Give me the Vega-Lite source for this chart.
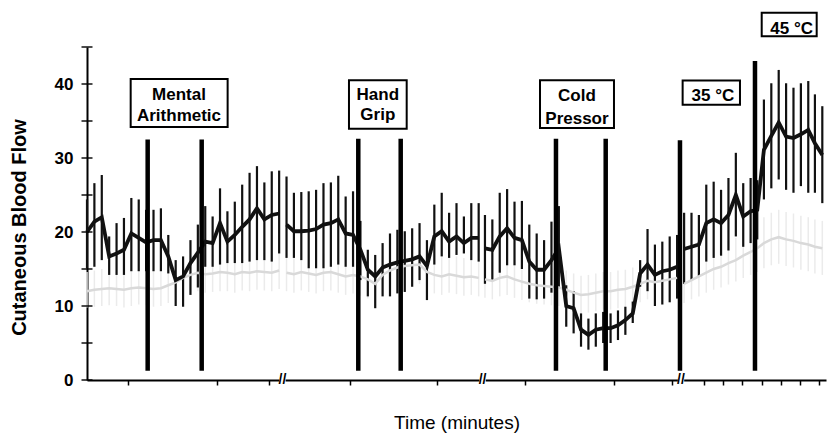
{
  "$schema": "https://vega.github.io/schema/vega-lite/v6.json",
  "width": 739,
  "height": 333,
  "autosize": {"type": "none"},
  "padding": {"left": 87, "top": 47, "right": 1, "bottom": 53},
  "config": {"view": {"stroke": null}, "font": "Liberation Sans"},
  "datasets": {
    "series": [
      {"t":0,"s":1,"g":"b","m":20.0,"lo":15.1,"hi":24.4},
      {"t":1,"s":1,"g":"b","m":21.4,"lo":15.3,"hi":26.6},
      {"t":2,"s":1,"g":"b","m":22.0,"lo":16.2,"hi":27.7},
      {"t":3,"s":1,"g":"b","m":16.7,"lo":14.2,"hi":19.4},
      {"t":4,"s":1,"g":"b","m":17.1,"lo":14.2,"hi":21.2},
      {"t":5,"s":1,"g":"b","m":17.6,"lo":14.2,"hi":21.9},
      {"t":6,"s":1,"g":"b","m":19.8,"lo":14.7,"hi":24.6},
      {"t":7,"s":1,"g":"b","m":19.2,"lo":14.7,"hi":24.4},
      {"t":8,"s":1,"g":"b","m":18.6,"lo":14.7,"hi":23.0},
      {"t":9,"s":1,"g":"b","m":18.9,"lo":14.7,"hi":23.0},
      {"t":10,"s":1,"g":"b","m":18.9,"lo":14.7,"hi":23.2},
      {"t":11,"s":1,"g":"b","m":16.7,"lo":14.4,"hi":19.6},
      {"t":12,"s":1,"g":"b","m":13.5,"lo":10.0,"hi":16.2},
      {"t":13,"s":1,"g":"b","m":14.0,"lo":9.9,"hi":16.7},
      {"t":14,"s":1,"g":"b","m":15.8,"lo":11.5,"hi":18.9},
      {"t":15,"s":1,"g":"b","m":17.2,"lo":12.5,"hi":21.0},
      {"t":16,"s":1,"g":"b","m":18.7,"lo":15.3,"hi":23.5},
      {"t":17,"s":1,"g":"b","m":18.5,"lo":15.3,"hi":22.1},
      {"t":18,"s":1,"g":"b","m":21.2,"lo":15.6,"hi":25.9},
      {"t":19,"s":1,"g":"b","m":18.7,"lo":15.8,"hi":22.8},
      {"t":20,"s":1,"g":"b","m":19.6,"lo":15.8,"hi":24.1},
      {"t":21,"s":1,"g":"b","m":20.7,"lo":15.8,"hi":26.4},
      {"t":22,"s":1,"g":"b","m":21.7,"lo":16.0,"hi":28.0},
      {"t":23,"s":1,"g":"b","m":23.2,"lo":16.2,"hi":28.9},
      {"t":24,"s":1,"g":"b","m":21.7,"lo":16.2,"hi":26.7},
      {"t":25,"s":1,"g":"b","m":22.3,"lo":16.0,"hi":28.2},
      {"t":26,"s":1,"g":"b","m":22.5,"lo":17.1,"hi":28.3},
      {"t":27,"s":2,"g":"b","m":21.0,"lo":16.5,"hi":27.5},
      {"t":28,"s":2,"g":"b","m":20.1,"lo":16.5,"hi":25.3},
      {"t":29,"s":2,"g":"b","m":20.1,"lo":16.2,"hi":25.4},
      {"t":30,"s":2,"g":"b","m":20.2,"lo":15.1,"hi":25.5},
      {"t":31,"s":2,"g":"b","m":20.4,"lo":15.1,"hi":25.7},
      {"t":32,"s":2,"g":"b","m":21.0,"lo":15.1,"hi":26.6},
      {"t":33,"s":2,"g":"b","m":21.2,"lo":15.3,"hi":26.7},
      {"t":34,"s":2,"g":"b","m":21.7,"lo":15.6,"hi":27.6},
      {"t":35,"s":2,"g":"b","m":19.8,"lo":15.3,"hi":24.8},
      {"t":36,"s":2,"g":"b","m":19.6,"lo":15.3,"hi":25.5},
      {"t":37,"s":2,"g":"b","m":17.6,"lo":13.5,"hi":21.5},
      {"t":38,"s":2,"g":"b","m":14.9,"lo":11.3,"hi":17.6},
      {"t":39,"s":2,"g":"b","m":14.0,"lo":9.7,"hi":16.9},
      {"t":40,"s":2,"g":"b","m":15.2,"lo":11.3,"hi":18.5},
      {"t":41,"s":2,"g":"b","m":15.6,"lo":11.3,"hi":19.8},
      {"t":42,"s":2,"g":"b","m":15.9,"lo":11.7,"hi":20.3},
      {"t":43,"s":2,"g":"b","m":16.1,"lo":11.9,"hi":20.1},
      {"t":44,"s":2,"g":"b","m":16.3,"lo":12.6,"hi":20.5},
      {"t":45,"s":2,"g":"b","m":16.7,"lo":13.5,"hi":21.2},
      {"t":46,"s":2,"g":"b","m":15.4,"lo":10.8,"hi":18.9},
      {"t":47,"s":2,"g":"b","m":19.4,"lo":15.6,"hi":23.7},
      {"t":48,"s":2,"g":"b","m":20.1,"lo":16.7,"hi":25.3},
      {"t":49,"s":2,"g":"b","m":18.7,"lo":16.5,"hi":22.6},
      {"t":50,"s":2,"g":"b","m":19.4,"lo":16.9,"hi":23.9},
      {"t":51,"s":2,"g":"b","m":18.5,"lo":17.1,"hi":22.1},
      {"t":52,"s":2,"g":"b","m":19.2,"lo":16.2,"hi":23.9},
      {"t":53,"s":2,"g":"b","m":19.2,"lo":16.0,"hi":23.9},
      {"t":53.85,"s":3,"g":"b","m":17.8,"lo":13.0,"hi":22.3},
      {"t":54.85,"s":3,"g":"b","m":17.6,"lo":13.5,"hi":21.7},
      {"t":55.85,"s":3,"g":"b","m":19.4,"lo":14.5,"hi":25.3},
      {"t":56.85,"s":3,"g":"b","m":20.5,"lo":15.5,"hi":25.8},
      {"t":57.85,"s":3,"g":"b","m":19.2,"lo":15.5,"hi":24.1},
      {"t":58.85,"s":3,"g":"b","m":18.9,"lo":15.0,"hi":24.2},
      {"t":59.85,"s":3,"g":"b","m":16.0,"lo":11.0,"hi":21.0},
      {"t":60.85,"s":3,"g":"b","m":14.9,"lo":10.9,"hi":19.8},
      {"t":61.85,"s":3,"g":"b","m":14.9,"lo":11.0,"hi":18.9},
      {"t":62.85,"s":3,"g":"b","m":16.2,"lo":11.8,"hi":21.4},
      {"t":63.85,"s":3,"g":"b","m":17.8,"lo":12.5,"hi":23.5},
      {"t":64.85,"s":3,"g":"b","m":10.0,"lo":7.2,"hi":12.8},
      {"t":65.85,"s":3,"g":"b","m":9.7,"lo":6.3,"hi":12.0},
      {"t":66.85,"s":3,"g":"b","m":6.8,"lo":4.5,"hi":9.0},
      {"t":67.85,"s":3,"g":"b","m":6.1,"lo":4.1,"hi":8.3},
      {"t":68.85,"s":3,"g":"b","m":6.8,"lo":4.5,"hi":9.0},
      {"t":69.85,"s":3,"g":"b","m":7.0,"lo":5.0,"hi":9.2},
      {"t":70.85,"s":3,"g":"b","m":7.0,"lo":5.0,"hi":9.0},
      {"t":71.85,"s":3,"g":"b","m":7.4,"lo":5.4,"hi":9.4},
      {"t":72.85,"s":3,"g":"b","m":8.1,"lo":6.1,"hi":9.9},
      {"t":73.85,"s":3,"g":"b","m":9.0,"lo":7.7,"hi":10.6},
      {"t":74.85,"s":3,"g":"b","m":14.4,"lo":12.6,"hi":16.2},
      {"t":75.85,"s":3,"g":"b","m":15.6,"lo":12.0,"hi":20.4},
      {"t":76.85,"s":3,"g":"b","m":14.2,"lo":10.0,"hi":18.3},
      {"t":77.85,"s":3,"g":"b","m":14.7,"lo":10.2,"hi":18.7},
      {"t":78.85,"s":3,"g":"b","m":14.9,"lo":10.5,"hi":19.4},
      {"t":79.85,"s":3,"g":"b","m":15.3,"lo":11.0,"hi":19.6},
      {"t":80.8,"s":4,"g":"b","m":17.7,"lo":13.0,"hi":22.6},
      {"t":81.8,"s":4,"g":"b","m":18.0,"lo":13.5,"hi":22.6},
      {"t":82.8,"s":4,"g":"b","m":18.3,"lo":14.0,"hi":22.3},
      {"t":83.8,"s":4,"g":"b","m":21.2,"lo":16.0,"hi":26.4},
      {"t":84.8,"s":4,"g":"b","m":21.7,"lo":16.5,"hi":26.8},
      {"t":85.8,"s":4,"g":"b","m":21.2,"lo":16.8,"hi":25.7},
      {"t":86.8,"s":4,"g":"b","m":22.3,"lo":17.5,"hi":27.3},
      {"t":87.8,"s":4,"g":"b","m":25.0,"lo":19.4,"hi":30.7},
      {"t":88.8,"s":4,"g":"b","m":22.1,"lo":18.0,"hi":26.6},
      {"t":89.8,"s":4,"g":"b","m":22.8,"lo":18.5,"hi":27.3},
      {"t":90.7,"s":4,"g":"b","m":23.0,"lo":19.0,"hi":27.0},
      {"t":91.6,"s":4,"g":"b","m":31.1,"lo":24.4,"hi":37.9},
      {"t":92.6,"s":4,"g":"b","m":33.0,"lo":25.9,"hi":40.1},
      {"t":93.6,"s":4,"g":"b","m":34.8,"lo":27.1,"hi":41.9},
      {"t":94.6,"s":4,"g":"b","m":32.9,"lo":25.7,"hi":40.1},
      {"t":95.6,"s":4,"g":"b","m":32.7,"lo":25.3,"hi":39.5},
      {"t":96.6,"s":4,"g":"b","m":33.2,"lo":26.2,"hi":40.1},
      {"t":97.6,"s":4,"g":"b","m":33.8,"lo":25.3,"hi":40.4},
      {"t":98.5,"s":4,"g":"b","m":32.0,"lo":25.3,"hi":38.6},
      {"t":99.5,"s":4,"g":"b","m":30.4,"lo":23.9,"hi":37.0},

      {"t":0,"s":1,"g":"g","m":12.0,"lo":9.8,"hi":14.6},
      {"t":1,"s":1,"g":"g","m":12.2,"lo":9.9,"hi":14.8},
      {"t":2,"s":1,"g":"g","m":12.3,"lo":10.0,"hi":15.0},
      {"t":3,"s":1,"g":"g","m":12.4,"lo":10.1,"hi":14.9},
      {"t":4,"s":1,"g":"g","m":12.3,"lo":10.0,"hi":14.8},
      {"t":5,"s":1,"g":"g","m":12.2,"lo":9.8,"hi":14.6},
      {"t":6,"s":1,"g":"g","m":12.4,"lo":10.0,"hi":15.0},
      {"t":7,"s":1,"g":"g","m":12.5,"lo":10.2,"hi":15.1},
      {"t":8,"s":1,"g":"g","m":12.4,"lo":10.1,"hi":14.9},
      {"t":9,"s":1,"g":"g","m":12.3,"lo":9.9,"hi":14.8},
      {"t":10,"s":1,"g":"g","m":12.4,"lo":10.0,"hi":15.0},
      {"t":11,"s":1,"g":"g","m":12.8,"lo":10.4,"hi":15.3},
      {"t":12,"s":1,"g":"g","m":13.2,"lo":10.8,"hi":15.7},
      {"t":13,"s":1,"g":"g","m":13.8,"lo":11.3,"hi":16.3},
      {"t":14,"s":1,"g":"g","m":14.2,"lo":11.8,"hi":16.8},
      {"t":15,"s":1,"g":"g","m":14.5,"lo":12.0,"hi":17.0},
      {"t":16,"s":1,"g":"g","m":14.3,"lo":11.8,"hi":16.9},
      {"t":17,"s":1,"g":"g","m":14.4,"lo":11.9,"hi":17.0},
      {"t":18,"s":1,"g":"g","m":14.6,"lo":12.0,"hi":17.3},
      {"t":19,"s":1,"g":"g","m":14.5,"lo":12.0,"hi":17.1},
      {"t":20,"s":1,"g":"g","m":14.3,"lo":11.8,"hi":16.9},
      {"t":21,"s":1,"g":"g","m":14.6,"lo":12.1,"hi":17.2},
      {"t":22,"s":1,"g":"g","m":14.5,"lo":12.0,"hi":17.1},
      {"t":23,"s":1,"g":"g","m":14.7,"lo":12.2,"hi":17.3},
      {"t":24,"s":1,"g":"g","m":14.6,"lo":12.1,"hi":17.2},
      {"t":25,"s":1,"g":"g","m":14.5,"lo":12.0,"hi":17.0},
      {"t":26,"s":1,"g":"g","m":14.8,"lo":12.3,"hi":17.4},
      {"t":27,"s":2,"g":"g","m":14.5,"lo":12.0,"hi":17.1},
      {"t":28,"s":2,"g":"g","m":14.3,"lo":11.8,"hi":16.9},
      {"t":29,"s":2,"g":"g","m":14.6,"lo":12.1,"hi":17.2},
      {"t":30,"s":2,"g":"g","m":14.4,"lo":11.9,"hi":17.0},
      {"t":31,"s":2,"g":"g","m":14.2,"lo":11.7,"hi":16.8},
      {"t":32,"s":2,"g":"g","m":14.5,"lo":12.0,"hi":17.1},
      {"t":33,"s":2,"g":"g","m":14.6,"lo":12.1,"hi":17.2},
      {"t":34,"s":2,"g":"g","m":14.3,"lo":11.8,"hi":16.9},
      {"t":35,"s":2,"g":"g","m":14.0,"lo":11.5,"hi":16.6},
      {"t":36,"s":2,"g":"g","m":14.2,"lo":11.7,"hi":16.8},
      {"t":37,"s":2,"g":"g","m":14.0,"lo":11.4,"hi":16.6},
      {"t":38,"s":2,"g":"g","m":13.6,"lo":11.0,"hi":16.2},
      {"t":39,"s":2,"g":"g","m":13.0,"lo":10.4,"hi":15.6},
      {"t":40,"s":2,"g":"g","m":14.2,"lo":11.6,"hi":16.8},
      {"t":41,"s":2,"g":"g","m":14.8,"lo":12.2,"hi":17.4},
      {"t":42,"s":2,"g":"g","m":15.2,"lo":12.6,"hi":17.8},
      {"t":43,"s":2,"g":"g","m":15.4,"lo":12.8,"hi":18.0},
      {"t":44,"s":2,"g":"g","m":15.5,"lo":12.9,"hi":18.1},
      {"t":45,"s":2,"g":"g","m":15.6,"lo":13.0,"hi":18.2},
      {"t":46,"s":2,"g":"g","m":14.6,"lo":12.0,"hi":17.2},
      {"t":47,"s":2,"g":"g","m":14.2,"lo":11.7,"hi":16.8},
      {"t":48,"s":2,"g":"g","m":14.0,"lo":11.5,"hi":16.6},
      {"t":49,"s":2,"g":"g","m":14.3,"lo":11.8,"hi":16.9},
      {"t":50,"s":2,"g":"g","m":14.1,"lo":11.6,"hi":16.7},
      {"t":51,"s":2,"g":"g","m":13.9,"lo":11.4,"hi":16.5},
      {"t":52,"s":2,"g":"g","m":14.0,"lo":11.5,"hi":16.6},
      {"t":53,"s":2,"g":"g","m":13.8,"lo":11.3,"hi":16.4},
      {"t":53.85,"s":3,"g":"g","m":13.6,"lo":11.1,"hi":16.2},
      {"t":54.85,"s":3,"g":"g","m":13.4,"lo":10.9,"hi":16.0},
      {"t":55.85,"s":3,"g":"g","m":13.8,"lo":11.3,"hi":16.4},
      {"t":56.85,"s":3,"g":"g","m":14.0,"lo":11.5,"hi":16.6},
      {"t":57.85,"s":3,"g":"g","m":13.6,"lo":11.1,"hi":16.2},
      {"t":58.85,"s":3,"g":"g","m":13.3,"lo":10.8,"hi":15.9},
      {"t":59.85,"s":3,"g":"g","m":13.0,"lo":10.5,"hi":15.6},
      {"t":60.85,"s":3,"g":"g","m":12.8,"lo":10.3,"hi":15.4},
      {"t":61.85,"s":3,"g":"g","m":12.7,"lo":10.2,"hi":15.3},
      {"t":62.85,"s":3,"g":"g","m":12.6,"lo":10.1,"hi":15.2},
      {"t":63.85,"s":3,"g":"g","m":12.5,"lo":10.0,"hi":15.1},
      {"t":64.85,"s":3,"g":"g","m":12.2,"lo":9.7,"hi":14.8},
      {"t":65.85,"s":3,"g":"g","m":11.8,"lo":9.3,"hi":14.4},
      {"t":66.85,"s":3,"g":"g","m":11.5,"lo":9.0,"hi":14.1},
      {"t":67.85,"s":3,"g":"g","m":11.6,"lo":9.1,"hi":14.2},
      {"t":68.85,"s":3,"g":"g","m":11.8,"lo":9.3,"hi":14.4},
      {"t":69.85,"s":3,"g":"g","m":12.0,"lo":9.5,"hi":14.6},
      {"t":70.85,"s":3,"g":"g","m":12.0,"lo":9.5,"hi":14.6},
      {"t":71.85,"s":3,"g":"g","m":12.2,"lo":9.7,"hi":14.8},
      {"t":72.85,"s":3,"g":"g","m":12.3,"lo":9.8,"hi":14.9},
      {"t":73.85,"s":3,"g":"g","m":12.6,"lo":10.1,"hi":15.2},
      {"t":74.85,"s":3,"g":"g","m":13.0,"lo":10.5,"hi":15.6},
      {"t":75.85,"s":3,"g":"g","m":13.4,"lo":10.9,"hi":16.0},
      {"t":76.85,"s":3,"g":"g","m":13.2,"lo":10.7,"hi":15.8},
      {"t":77.85,"s":3,"g":"g","m":13.4,"lo":10.9,"hi":16.0},
      {"t":78.85,"s":3,"g":"g","m":13.6,"lo":11.1,"hi":16.2},
      {"t":79.85,"s":3,"g":"g","m":13.8,"lo":11.3,"hi":16.4},
      {"t":80.8,"s":4,"g":"g","m":13.0,"lo":10.4,"hi":15.7},
      {"t":81.8,"s":4,"g":"g","m":13.5,"lo":10.9,"hi":16.2},
      {"t":82.8,"s":4,"g":"g","m":14.0,"lo":11.3,"hi":16.8},
      {"t":83.8,"s":4,"g":"g","m":14.5,"lo":11.8,"hi":17.3},
      {"t":84.8,"s":4,"g":"g","m":15.0,"lo":12.2,"hi":17.9},
      {"t":85.8,"s":4,"g":"g","m":15.3,"lo":12.5,"hi":18.2},
      {"t":86.8,"s":4,"g":"g","m":15.8,"lo":12.9,"hi":18.8},
      {"t":87.8,"s":4,"g":"g","m":16.2,"lo":13.3,"hi":19.2},
      {"t":88.8,"s":4,"g":"g","m":16.8,"lo":13.8,"hi":19.9},
      {"t":89.8,"s":4,"g":"g","m":17.3,"lo":14.2,"hi":20.5},
      {"t":90.7,"s":4,"g":"g","m":17.8,"lo":14.6,"hi":21.1},
      {"t":91.6,"s":4,"g":"g","m":18.5,"lo":15.1,"hi":22.0},
      {"t":92.6,"s":4,"g":"g","m":19.0,"lo":15.5,"hi":22.6},
      {"t":93.6,"s":4,"g":"g","m":19.3,"lo":15.7,"hi":23.0},
      {"t":94.6,"s":4,"g":"g","m":19.0,"lo":15.4,"hi":22.7},
      {"t":95.6,"s":4,"g":"g","m":18.8,"lo":15.2,"hi":22.5},
      {"t":96.6,"s":4,"g":"g","m":18.5,"lo":14.9,"hi":22.2},
      {"t":97.6,"s":4,"g":"g","m":18.3,"lo":14.7,"hi":22.0},
      {"t":98.5,"s":4,"g":"g","m":18.0,"lo":14.4,"hi":21.7},
      {"t":99.5,"s":4,"g":"g","m":17.8,"lo":14.2,"hi":21.5}
    ],
    "events": [
      {"t":8.21,"a":1.26,"b":32.5},
      {"t":15.52,"a":1.26,"b":32.5},
      {"t":36.71,"a":1.26,"b":32.6},
      {"t":42.45,"a":1.26,"b":32.6},
      {"t":63.46,"a":1.26,"b":32.6},
      {"t":70.19,"a":1.26,"b":32.6},
      {"t":80.24,"a":1.26,"b":32.4},
      {"t":90.39,"a":1.26,"b":43.1}
    ],
    "boxes": [
      {"x1":5.91,"x2":19.03,"y1":34.19,"y2":40.69},
      {"x1":35.45,"x2":43.26,"y1":33.96,"y2":40.5},
      {"x1":61.3,"x2":71.31,"y1":34.06,"y2":40.5},
      {"x1":80.6,"x2":88.36,"y1":37.21,"y2":40.46},
      {"x1":91.3,"x2":98.74,"y1":46.45,"y2":49.62}
    ],
    "labels": [
      {"t":12.45,"v":37.89,"txt":"Mental"},
      {"t":12.45,"v":34.95,"txt":"Arithmetic"},
      {"t":39.35,"v":37.89,"txt":"Hand"},
      {"t":39.35,"v":35.18,"txt":"Grip"},
      {"t":66.3,"v":37.66,"txt":"Cold"},
      {"t":66.3,"v":34.64,"txt":"Pressor"},
      {"t":84.7,"v":37.66,"txt":"35 °C"},
      {"t":95.35,"v":46.78,"txt":"45 °C"}
    ],
    "yticks": [{"v":0},{"v":5},{"v":10},{"v":15},{"v":20},{"v":25},{"v":30},{"v":35},{"v":40},{"v":45}],
    "breaks": [{"t":26.45},{"t":53.53},{"t":80.38}]
  },
  "layer": [
    {
      "data": {"name": "series"},
      "transform": [{"filter": {"field": "g", "equal": "g"}}],
      "mark": {"type": "rule", "color": "#ebebeb", "strokeWidth": 1.5},
      "encoding": {
        "x": {"field": "t", "type": "quantitative", "scale": {"domain": [0, 100], "nice": false, "zero": false},
          "axis": {"title": "Time (minutes)", "values": [5.5, 11.5, 17.6, 23.5, 24.6, 29.4, 35.6, 41.5, 47.4, 52.4, 59.3, 65.5, 71.3, 77.4, 79.1, 82.2, 83.5, 84.8, 86.1, 87.4, 88.7, 90.0, 91.3, 92.6, 93.9, 95.2, 96.5, 97.8, 99.1],
            "labels": false, "tickSize": 5, "tickWidth": 1.5, "tickColor": "black", "domainColor": "black", "domainWidth": 2, "grid": false,
            "titleFont": "Liberation Sans", "titleFontSize": 19, "titleFontWeight": "normal", "titleColor": "black", "titleY": 48, "titleBaseline": "alphabetic"}},
        "y": {"field": "lo", "type": "quantitative", "scale": {"domain": [0, 45], "nice": false},
          "axis": {"title": "Cutaneous Blood Flow", "values": [0, 10, 20, 30, 40], "ticks": false, "tickSize": 0, "labelPadding": 14,
            "labelFont": "Liberation Sans", "labelFontSize": 17, "labelFontWeight": "bold", "labelColor": "black", "labelBaseline": "middle",
            "domainColor": "black", "domainWidth": 2, "grid": false,
            "titleFont": "Liberation Sans", "titleFontSize": 20, "titleFontWeight": "bold", "titleColor": "black",
            "titleX": -62, "titleY": 180, "titleAngle": -90, "titleAlign": "center", "titleBaseline": "alphabetic"}},
        "y2": {"field": "hi"}
      }
    },
    {
      "data": {"name": "series"},
      "transform": [{"filter": {"field": "g", "equal": "b"}}],
      "mark": {"type": "rule", "color": "#111111", "strokeWidth": 2.2},
      "encoding": {
        "x": {"field": "t", "type": "quantitative"},
        "y": {"field": "lo", "type": "quantitative"},
        "y2": {"field": "hi"}
      }
    },
    {
      "data": {"name": "series"},
      "transform": [{"filter": {"field": "g", "equal": "g"}}],
      "mark": {"type": "line", "color": "#d9d9d9", "strokeWidth": 2.5},
      "encoding": {
        "x": {"field": "t", "type": "quantitative"},
        "y": {"field": "m", "type": "quantitative"},
        "detail": {"field": "s", "type": "nominal"}
      }
    },
    {
      "data": {"name": "series"},
      "transform": [{"filter": {"field": "g", "equal": "b"}}],
      "mark": {"type": "line", "color": "#111111", "strokeWidth": 3.8},
      "encoding": {
        "x": {"field": "t", "type": "quantitative"},
        "y": {"field": "m", "type": "quantitative"},
        "detail": {"field": "s", "type": "nominal"}
      }
    },
    {
      "data": {"name": "events"},
      "mark": {"type": "rule", "color": "#000000", "strokeWidth": 4.5},
      "encoding": {
        "x": {"field": "t", "type": "quantitative"},
        "y": {"field": "a", "type": "quantitative"},
        "y2": {"field": "b"}
      }
    },
    {
      "data": {"name": "yticks"},
      "mark": {"type": "tick", "orient": "horizontal", "size": 11, "thickness": 2, "color": "#000000"},
      "encoding": {
        "x": {"datum": 0, "type": "quantitative"},
        "y": {"field": "v", "type": "quantitative"}
      }
    },
    {
      "data": {"name": "breaks"},
      "mark": {"type": "point", "shape": "square", "size": 40, "filled": true, "color": "white", "opacity": 1, "strokeWidth": 0},
      "encoding": {
        "x": {"field": "t", "type": "quantitative"},
        "y": {"datum": 0, "type": "quantitative"}
      }
    },
    {
      "data": {"name": "breaks"},
      "mark": {"type": "text", "text": "//", "font": "Liberation Sans", "fontSize": 14, "fontWeight": "bold", "color": "black", "align": "center", "baseline": "middle"},
      "encoding": {
        "x": {"field": "t", "type": "quantitative"},
        "y": {"datum": 0, "type": "quantitative"}
      }
    },
    {
      "data": {"name": "boxes"},
      "mark": {"type": "rect", "fill": "white", "stroke": "black", "strokeWidth": 2},
      "encoding": {
        "x": {"field": "x1", "type": "quantitative"},
        "x2": {"field": "x2"},
        "y": {"field": "y1", "type": "quantitative"},
        "y2": {"field": "y2"}
      }
    },
    {
      "data": {"name": "labels"},
      "mark": {"type": "text", "font": "Liberation Sans", "fontSize": 17, "fontWeight": "bold", "color": "black", "align": "center", "baseline": "alphabetic"},
      "encoding": {
        "x": {"field": "t", "type": "quantitative"},
        "y": {"field": "v", "type": "quantitative"},
        "text": {"field": "txt"}
      }
    }
  ]
}
